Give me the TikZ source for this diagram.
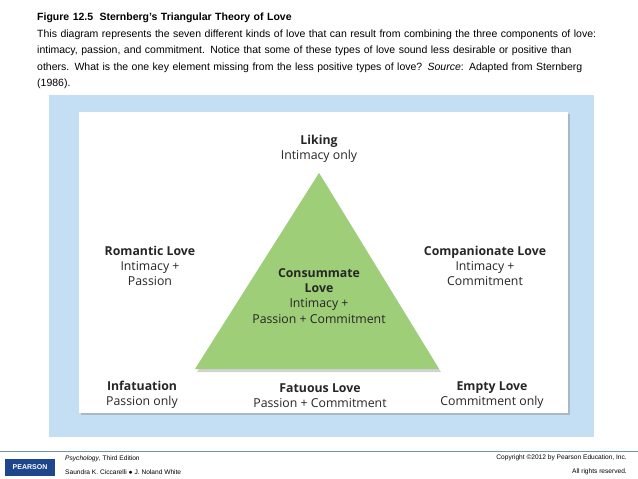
\documentclass[tikz,border=0pt]{standalone}
\usepackage{fontspec}
\setmainfont{Liberation Sans}
\newfontfamily\diagfont{Open Sans}
\usetikzlibrary{shadows}
\definecolor{panelblue}{RGB}{196,222,244}
\definecolor{lovegreen}{RGB}{158,206,120}
\definecolor{rulegray}{RGB}{110,150,160}
\definecolor{pearsonblue}{RGB}{30,70,140}
\tikzset{
  lbl/.style = {font = \diagfont\fontsize{12.3}{15.2}\selectfont, align = center, text = black!85, inner sep = 0pt},
  head/.style = {font = \fontsize{10.5}{16.5}\selectfont, anchor = north west, align = left, inner sep = 0pt, text width = 600pt},
  foot/.style = {font = \fontsize{6.6}{14}\selectfont, inner sep = 0pt}
}
\begin{document}
\begin{tikzpicture}[x = 1pt, y = -1pt]
    \useasboundingbox (0, 0) rectangle (638, 479);

    \node[head] (caption) at (37, 13) {\textbf{Figure 12.5\hspace{0.6em}Sternberg's Triangular Theory of Love}\\
      This diagram represents the seven different kinds of love that can result from combining the three components of love:\\
      intimacy, passion, and commitment. Notice that some of these types of love sound less desirable or positive than\\
      others. What is the one key element missing from the less positive types of love? \textit{Source}: Adapted from Sternberg\\
      (1986).};

    \fill[panelblue] (49, 95) rectangle (594, 437);
    \fill[white, drop shadow = {shadow xshift = 2pt, shadow yshift = -2pt, opacity = 0.4}] (79, 112) rectangle (568, 413);

    \coordinate (top) at (319, 173);
    \coordinate (left) at (195, 369);
    \coordinate (right) at (439, 369);
    \fill[lovegreen, drop shadow = {shadow xshift = 2pt, shadow yshift = -3pt, opacity = 0.35}] (top) -- (right) -- (left) -- cycle;

    \node[lbl] (liking) at (319, 149) {\textbf{Liking}\\Intimacy only};
    \node[lbl] (romantic) at (150, 266) {\textbf{Romantic Love}\\Intimacy +\\Passion};
    \node[lbl] (companionate) at (485, 266) {\textbf{Companionate Love}\\Intimacy +\\Commitment};
    \node[lbl] (consummate) at (319, 296) {\textbf{Consummate}\\\textbf{Love}\\Intimacy +\\Passion + Commitment};
    \node[lbl] (infatuation) at (142, 395) {\textbf{Infatuation}\\Passion only};
    \node[lbl] (fatuous) at (320, 396) {\textbf{Fatuous Love}\\Passion + Commitment};
    \node[lbl] (empty) at (492, 395) {\textbf{Empty Love}\\Commitment only};

    \draw[rulegray, line width = 1pt] (0, 451) -- (638, 451);

    \node[fill = pearsonblue, text = white, font = \bfseries\fontsize{7}{8}\selectfont,
      minimum width = 50pt, minimum height = 17pt, inner sep = 0pt] (logo) at (30, 467) {PEARSON};
    \node[foot, anchor = west, align = left] (book) at (65, 465) {\textit{Psychology}, Third Edition\\Saundra K. Ciccarelli $\bullet$ J. Noland White};
    \node[foot, anchor = east, align = right] (copy) at (627, 465) {Copyright \textcopyright2012 by Pearson Education, Inc.\\All rights reserved.};
\end{tikzpicture}
\end{document}
